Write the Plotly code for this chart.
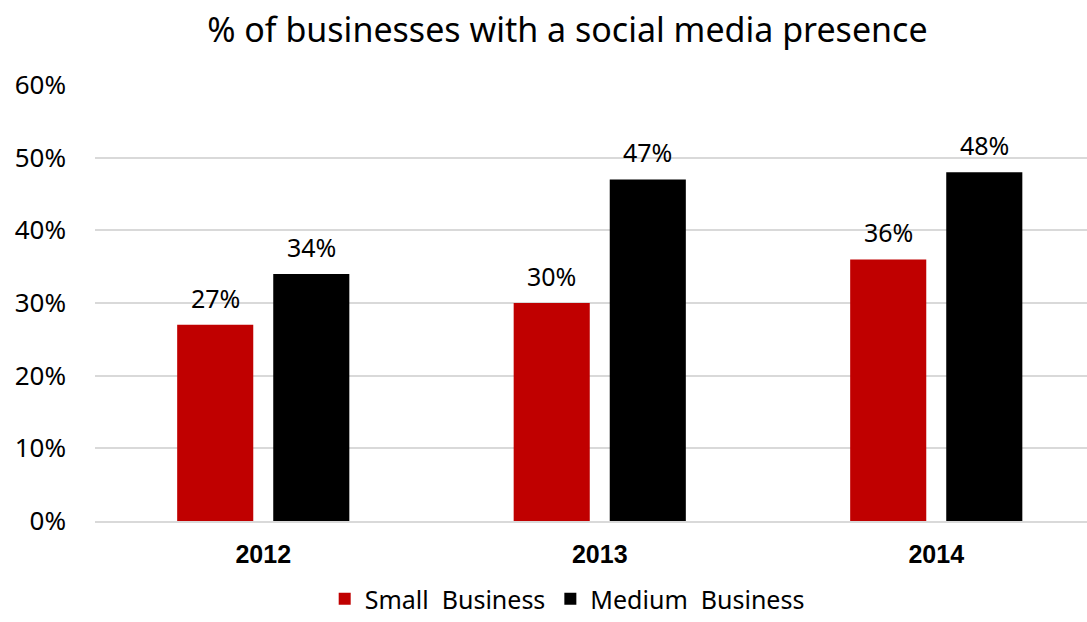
import plotly.graph_objects as go

years = ["2012", "2013", "2014"]
small = [27, 30, 36]
medium = [34, 47, 48]
series_names = ["Small  Business", "Medium  Business"]
colors = ["#C00000", "#000000"]
yticks = [0, 10, 20, 30, 40, 50, 60]

fig = go.Figure()
offsets = [-48, 48]
for name, vals, c, off in zip(series_names, [small, medium], colors, offsets):
    fig.add_trace(go.Bar(
        x=years, y=vals, name=name, marker=dict(color=c, line=dict(width=0)),
    ))
    for i, v in enumerate(vals):
        fig.add_annotation(x=i, y=v, xref="x", yref="y", text=f"{v}%", showarrow=False,
                           xshift=off, yshift=27, yanchor="middle",
                           font=dict(family="Noto Sans", size=25, color="#000000"))

fig.update_layout(
    width=1087, height=622,
    margin=dict(l=95, r=0, t=85, b=101, autoexpand=False),
    paper_bgcolor="white", plot_bgcolor="white",
    title=dict(text="% of businesses with a social media presence",
               x=0.522, xanchor="center", y=0.952, yanchor="middle",
               font=dict(family="Noto Sans", size=34, color="#000000")),
    barmode="group", bargap=0.429, bargroupgap=0.208,
    showlegend=True,
    legend=dict(orientation="h", x=0.476, xanchor="center",
                yref="container", y=0.0, yanchor="bottom",
                font=dict(family="Noto Sans", size=25, color="#000000"),
                traceorder="normal"),
    xaxis=dict(type="category", range=[-0.5, 2.448], showgrid=False,
               showline=True, linecolor="#D9D9D9", linewidth=2,
               ticks="", ticklabelstandoff=10,
               tickfont=dict(family="Liberation Sans", size=25, color="#000000"),
               tickprefix="<b>", ticksuffix="</b>"),
    yaxis=dict(range=[0, 60], tickvals=yticks, ticktext=[f"{v}%" for v in yticks],
               showgrid=True, gridcolor="#D9D9D9", gridwidth=2, zeroline=False,
               ticks="", ticklen=0, ticklabelstandoff=28,
               tickfont=dict(family="Noto Sans", size=26, color="#000000")),
)
fig.write_html("out.html")
